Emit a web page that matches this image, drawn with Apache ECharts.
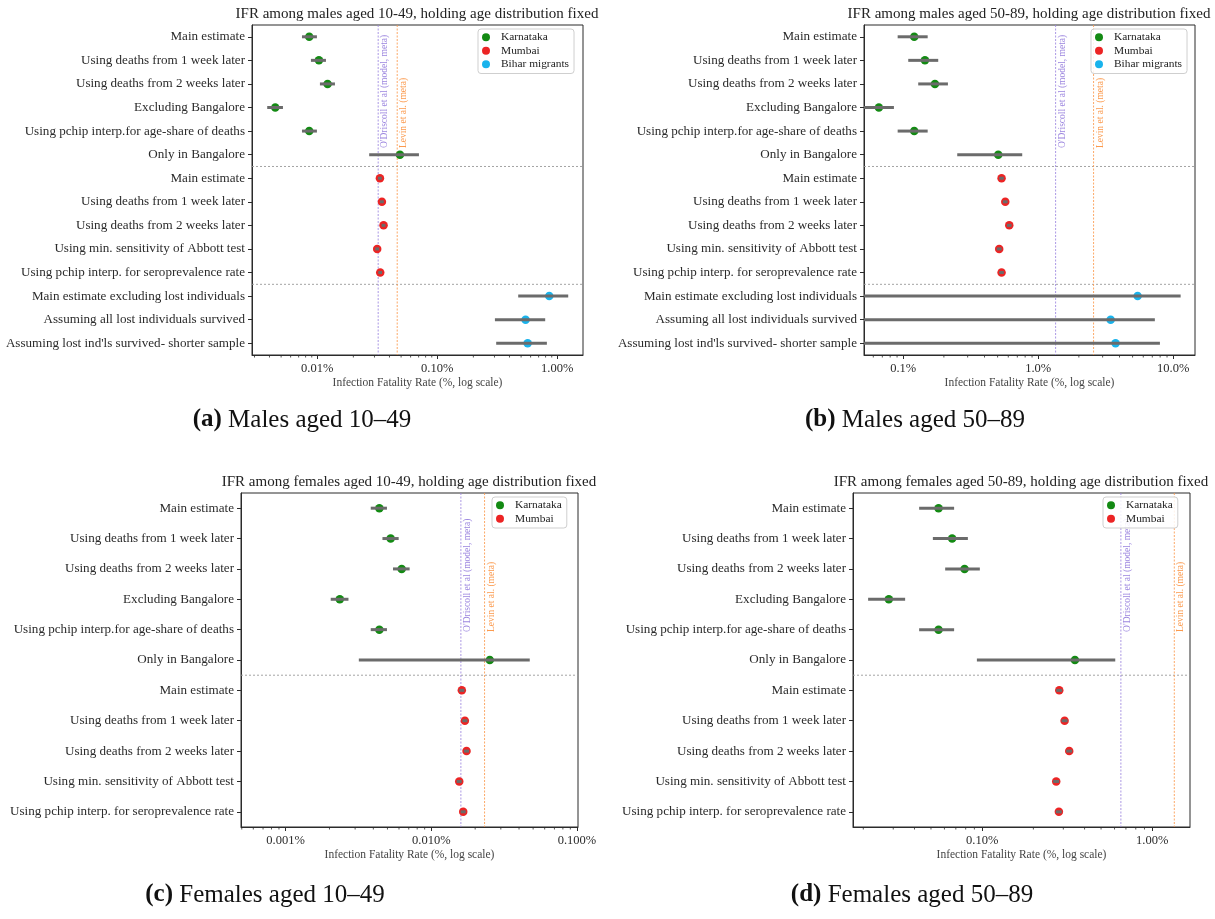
<!DOCTYPE html>
<html>
<head>
<meta charset="utf-8">
<script src="https://cdn.jsdelivr.net/npm/echarts@6/dist/echarts.min.js"></script>
<style>
  html, body { margin: 0; padding: 0; background: #fff; }
  #chart { width: 1215px; height: 919px; }
</style>
</head>
<body>
<div id="chart"></div>
<script>
// ---------------- data ----------------
// Row labels (top to bottom): Karnataka rows, Mumbai rows, Bihar migrant rows
const karnatakaRows = [
  'Main estimate',
  'Using deaths from 1 week later',
  'Using deaths from 2 weeks later',
  'Excluding Bangalore',
  'Using pchip interp.for age-share of deaths',
  'Only in Bangalore'
];
const mumbaiRows = [
  'Main estimate',
  'Using deaths from 1 week later',
  'Using deaths from 2 weeks later',
  'Using min. sensitivity of Abbott test',
  'Using pchip interp. for seroprevalence rate'
];
const biharRows = [
  'Main estimate excluding lost individuals',
  'Assuming all lost individuals survived',
  "Assuming lost ind'ls survived- shorter sample"
];
const seriesNames = ['Karnataka', 'Mumbai', 'Bihar migrants'];
const refNames = ["O'Driscoll et al (model, meta)", 'Levin et al. (meta)'];

// IFR in percent; point estimate, lower and upper bound of each interval
// (a) Males aged 10-49
const aKarVal = [0.00858, 0.01033, 0.0122, 0.00447, 0.00858, 0.0489];
const aKarLo  = [0.00746, 0.00886, 0.01053, 0.00383, 0.00746, 0.0271];
const aKarHi  = [0.00994, 0.01182, 0.01405, 0.00518, 0.00994, 0.0704];
const aMumVal = [0.0333, 0.0346, 0.0357, 0.0316, 0.0335];
const aMumLo  = [0.0321, 0.0333, 0.0344, 0.0304, 0.0323];
const aMumHi  = [0.0345, 0.0359, 0.0370, 0.0328, 0.0347];
const aBihVal = [0.858, 0.545, 0.567];
const aBihLo  = [0.473, 0.3025, 0.31];
const aBihHi  = [1.235, 0.794, 0.82];
const aRef    = [0.0322, 0.0464];
const aTickValues = [0.01, 0.1, 1];
const aTickLabels = ['0.01%', '0.10%', '1.00%'];

// (b) Males aged 50-89
const bKarVal = [0.1206, 0.1448, 0.1717, 0.066, 0.1206, 0.5056];
const bKarLo  = [0.0909, 0.1089, 0.1291, 0.0505, 0.0909, 0.2512];
const bKarHi  = [0.1517, 0.1816, 0.2143, 0.0853, 0.1517, 0.761];
const bMumVal = [0.535, 0.570, 0.610, 0.514, 0.535];
const bMumLo  = [0.514, 0.547, 0.586, 0.493, 0.514];
const bMumHi  = [0.556, 0.593, 0.634, 0.535, 0.556];
const bBihVal = [5.45, 3.44, 3.74];
const bBihLo  = [0.01, 0.01, 0.01];
const bBihHi  = [11.35, 7.31, 7.97];
const bRef    = [1.345, 2.57];
const bTickValues = [0.1, 1, 10];
const bTickLabels = ['0.1%', '1.0%', '10.0%'];

// (c) Females aged 10-49
const cKarVal = [0.0044, 0.00526, 0.00626, 0.002354, 0.0044, 0.0252];
const cKarLo  = [0.00384, 0.00462, 0.00546, 0.00204, 0.00384, 0.00318];
const cKarHi  = [0.00496, 0.00597, 0.0071, 0.0027, 0.00496, 0.0474];
const cMumVal = [0.0162, 0.0170, 0.01745, 0.01555, 0.01656];
const cMumLo  = [0.01555, 0.01632, 0.01675, 0.01493, 0.0159];
const cMumHi  = [0.01685, 0.01768, 0.01815, 0.01617, 0.01722];
const cRef    = [0.01596, 0.0232];
const cTickValues = [0.001, 0.01, 0.1];
const cTickLabels = ['0.001%', '0.010%', '0.100%'];

// (d) Females aged 50-89
const dKarVal = [0.0554, 0.0666, 0.0788, 0.02826, 0.0554, 0.351];
const dKarLo  = [0.0426, 0.0513, 0.0606, 0.02135, 0.0426, 0.0931];
const dKarHi  = [0.0684, 0.0824, 0.0969, 0.03524, 0.0684, 0.606];
const dMumVal = [0.284, 0.3053, 0.325, 0.2725, 0.2825];
const dMumLo  = [0.2726, 0.2931, 0.312, 0.2616, 0.2712];
const dMumHi  = [0.2954, 0.3175, 0.338, 0.2834, 0.2938];
const dRef    = [0.654, 1.348];
const dTickValues = [0.1, 1];
const dTickLabels = ['0.10%', '1.00%'];

// ---------------- panels ----------------
const panels = [
  {
    title: 'IFR among males aged 10-49, holding age distribution fixed',
    caption: ['(a)', 'Males aged 10\u201349'],
    groups: [[aKarVal, aKarLo, aKarHi], [aMumVal, aMumLo, aMumHi], [aBihVal, aBihLo, aBihHi]],
    ref: aRef, tickValues: aTickValues, tickLabels: aTickLabels,
    layout: { left: 252, top: 25, width: 331, height: 330, min: 0.00286, max: 1.64,
              legendLeft: 478, legendTop: 29, titleX: 417, titleY: 14, capX: 302, capY: 420, refFrac: 0.373 }
  },
  {
    title: 'IFR among males aged 50-89, holding age distribution fixed',
    caption: ['(b)', 'Males aged 50\u201389'],
    groups: [[bKarVal, bKarLo, bKarHi], [bMumVal, bMumLo, bMumHi], [bBihVal, bBihLo, bBihHi]],
    ref: bRef, tickValues: bTickValues, tickLabels: bTickLabels,
    layout: { left: 864, top: 25, width: 331, height: 330, min: 0.0512, max: 14.5,
              legendLeft: 1091, legendTop: 29, titleX: 1029, titleY: 14, capX: 915, capY: 420, refFrac: 0.373 }
  },
  {
    title: 'IFR among females aged 10-49, holding age distribution fixed',
    caption: ['(c)', 'Females aged 10\u201349'],
    groups: [[cKarVal, cKarLo, cKarHi], [cMumVal, cMumLo, cMumHi]],
    ref: cRef, tickValues: cTickValues, tickLabels: cTickLabels,
    layout: { left: 241, top: 493, width: 337, height: 334, min: 0.000494, max: 0.1016,
              legendLeft: 492, legendTop: 497, titleX: 409, titleY: 482, capX: 265, capY: 895, refFrac: 0.416 }
  },
  {
    title: 'IFR among females aged 50-89, holding age distribution fixed',
    caption: ['(d)', 'Females aged 50\u201389'],
    groups: [[dKarVal, dKarLo, dKarHi], [dMumVal, dMumLo, dMumHi]],
    ref: dRef, tickValues: dTickValues, tickLabels: dTickLabels,
    layout: { left: 853, top: 493, width: 337, height: 334, min: 0.0174, max: 1.667,
              legendLeft: 1103, legendTop: 497, titleX: 1021, titleY: 482, capX: 912, capY: 895, refFrac: 0.416 }
  }
];

// ---------------- styling ----------------
const FONT = '"Liberation Serif", "Times New Roman", serif';
const INK = '#2b2b2b';
const COLORS = ['#138a13', '#ec2424', '#19b3ec'];
const ERR_COLOR = '#6b6b6b';
const REF_COLORS = ['#9c86df', '#fb9a4e'];
const rowSets = [karnatakaRows, mumbaiRows, biharRows];

const grids = [], xAxes = [], yAxes = [], series = [], legends = [], titles = [];

panels.forEach((p, pi) => {
  const L = p.layout;
  const nGroups = p.groups.length;
  const rows = [].concat(...rowSets.slice(0, nGroups));
  const offsets = [];
  let acc = 0;
  for (let g = 0; g < nGroups; g++) { offsets.push(acc); acc += rowSets[g].length; }

  grids.push({
    left: L.left, top: L.top, width: L.width, height: L.height,
    show: true, borderColor: INK, borderWidth: 1, backgroundColor: 'transparent',
    containLabel: false, outerBoundsMode: 'none'
  });

  xAxes.push({
    type: 'log', logBase: 10, gridIndex: pi, min: L.min, max: L.max,
    splitLine: { show: false },
    axisLine: { show: true, lineStyle: { color: INK, width: 1 } },
    axisTick: { show: true, length: 4, customValues: p.tickValues, lineStyle: { color: INK, width: 1 } },
    axisLabel: {
      customValues: p.tickValues, margin: 7, fontSize: 12.5, color: INK, fontFamily: FONT,
      formatter: function (v) {
        for (let i = 0; i < p.tickValues.length; i++) {
          if (Math.abs(Math.log10(v) - Math.log10(p.tickValues[i])) < 1e-6) return p.tickLabels[i];
        }
        return '';
      }
    },
    name: 'Infection Fatality Rate (%, log scale)', nameLocation: 'middle', nameGap: 22,
    nameTextStyle: { fontSize: 11.5, color: '#444', fontFamily: FONT }
  });

  yAxes.push({
    type: 'category', gridIndex: pi, data: rows, inverse: true,
    axisLine: { show: true, lineStyle: { color: INK, width: 1 } },
    axisTick: { show: true, alignWithLabel: true, length: 4, lineStyle: { color: INK } },
    axisLabel: { interval: 0, margin: 7, fontSize: 13.1, color: INK, fontFamily: FONT },
    splitLine: { show: false }
  });

  // points for each group
  const errData = [];
  p.groups.forEach((grp, g) => {
    const [vals, lo, hi] = grp;
    series.push({
      type: 'scatter', name: seriesNames[g], xAxisIndex: pi, yAxisIndex: pi,
      symbol: 'circle', symbolSize: 8.5, z: 2,
      itemStyle: { color: COLORS[g], opacity: 1 },
      data: vals.map((v, i) => [v, offsets[g] + i])
    });
    vals.forEach((v, i) => errData.push([lo[i], hi[i], offsets[g] + i]));
  });

  // horizontal error bars
  series.push({
    type: 'custom', name: 'interval', xAxisIndex: pi, yAxisIndex: pi, z: 3, silent: true,
    encode: { x: [0, 1], y: 2 },
    data: errData,
    renderItem: function (params, api) {
      const row = api.value(2);
      const a = api.coord([api.value(0), row]);
      const b = api.coord([api.value(1), row]);
      const cs = params.coordSys;
      const x1 = Math.max(a[0], cs.x), x2 = Math.min(b[0], cs.x + cs.width);
      return {
        type: 'line', shape: { x1: x1, y1: a[1], x2: x2, y2: a[1] },
        style: { stroke: ERR_COLOR, lineWidth: 3 }
      };
    }
  });

  // dotted separators between the groups of rows
  const sepRows = offsets.slice(1).map(o => [L.min, o - 1]);
  series.push({
    type: 'custom', name: 'separator', xAxisIndex: pi, yAxisIndex: pi, z: 1, silent: true,
    encode: { x: 0, y: 1 },
    data: sepRows,
    renderItem: function (params, api) {
      const r = api.value(1);
      const y0 = api.coord([api.value(0), r])[1];
      const y1 = api.coord([api.value(0), r + 1])[1];
      const y = (y0 + y1) / 2;
      const cs = params.coordSys;
      return {
        type: 'line', shape: { x1: cs.x, y1: y, x2: cs.x + cs.width, y2: y },
        style: { stroke: '#9a9a9a', lineWidth: 0.9, lineDash: [2, 2] }
      };
    }
  });

  // literature reference lines with vertical labels
  series.push({
    type: 'custom', name: 'reference', xAxisIndex: pi, yAxisIndex: pi, z: 1, silent: true,
    encode: { x: 0 },
    data: p.ref.map((v, k) => [v, k]),
    renderItem: function (params, api) {
      const k = api.value(1);
      const x = api.coord([api.value(0), 0])[0];
      const cs = params.coordSys;
      return {
        type: 'group',
        children: [
          {
            type: 'line', shape: { x1: x, y1: cs.y, x2: x, y2: cs.y + cs.height },
            style: { stroke: REF_COLORS[k], lineWidth: 1, lineDash: [2, 1.5], opacity: 0.85 }
          },
          {
            type: 'text', x: x + 1.5, y: cs.y + L.refFrac * cs.height, rotation: Math.PI / 2,
            style: {
              text: refNames[k], fill: REF_COLORS[k], font: '9.5px ' + FONT,
              align: 'left', verticalAlign: 'top'
            }
          }
        ]
      };
    }
  });

  // minor ticks of the log axis (2..9 times each power of ten)
  const minor = [];
  for (let e = Math.floor(Math.log10(L.min)); e <= Math.ceil(Math.log10(L.max)); e++) {
    for (let m = 2; m <= 9; m++) {
      const v = m * Math.pow(10, e);
      if (v > L.min && v < L.max) minor.push([v]);
    }
  }
  series.push({
    type: 'custom', name: 'minor ticks', xAxisIndex: pi, yAxisIndex: pi, z: 1, silent: true,
    encode: { x: 0 },
    data: minor,
    renderItem: function (params, api) {
      const x = api.coord([api.value(0), 0])[0];
      const cs = params.coordSys;
      const yb = cs.y + cs.height;
      return {
        type: 'line', shape: { x1: x, y1: yb, x2: x, y2: yb + 2.5 },
        style: { stroke: INK, lineWidth: 0.8 }
      };
    }
  });

  legends.push({
    data: seriesNames.slice(0, nGroups),
    orient: 'vertical', left: L.legendLeft, top: L.legendTop,
    icon: 'circle', itemWidth: 20, itemHeight: 8, itemGap: 1,
    padding: [2, 5, 3, 4],
    borderColor: '#cfcfcf', borderWidth: 1, borderRadius: 3,
    backgroundColor: 'rgba(255,255,255,0.85)',
    textStyle: { fontSize: 11.4, color: '#222', fontFamily: FONT, lineHeight: 12.5 },
    selectedMode: false, z: 10
  });

  titles.push({
    text: p.title, left: L.titleX, top: L.titleY, textAlign: 'center', textVerticalAlign: 'middle',
    padding: 0,
    textStyle: { fontSize: 15, fontWeight: 'normal', color: '#222', fontFamily: FONT }
  });
  titles.push({
    text: '{b|' + p.caption[0] + '} {r|' + p.caption[1] + '}',
    left: L.capX, top: L.capY, textAlign: 'center', textVerticalAlign: 'middle', padding: 0,
    textStyle: {
      fontFamily: FONT, fontSize: 25, color: '#111',
      rich: {
        b: { fontFamily: FONT, fontSize: 25, fontWeight: 'bold', color: '#111' },
        r: { fontFamily: FONT, fontSize: 25, fontWeight: 'normal', color: '#111' }
      }
    }
  });
});

const chart = echarts.init(document.getElementById('chart'), null, { renderer: 'canvas' });
chart.setOption({
  animation: false,
  backgroundColor: '#fff',
  title: titles,
  legend: legends,
  grid: grids,
  xAxis: xAxes,
  yAxis: yAxes,
  series: series
});
</script>
</body>
</html>
